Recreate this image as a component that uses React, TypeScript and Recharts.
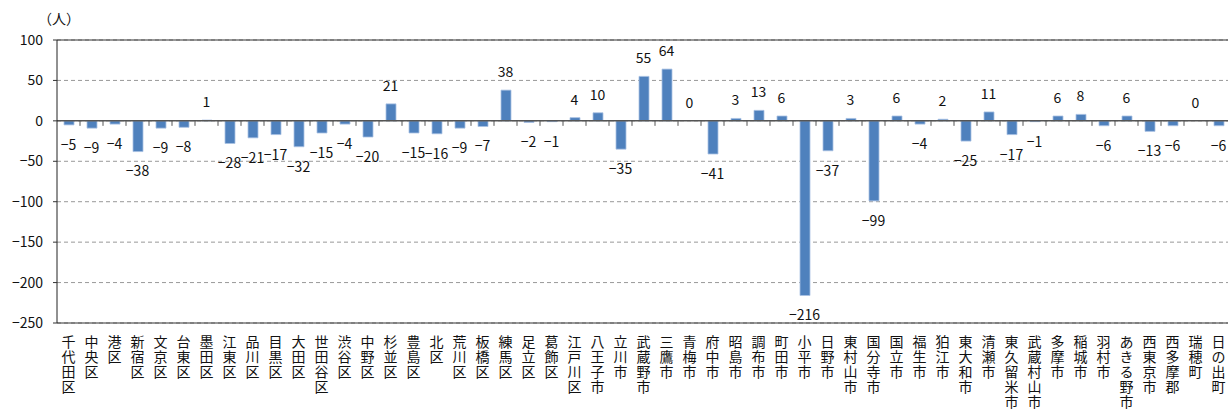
import React from 'react';
import { ComposedChart, Bar, Line, XAxis, YAxis, CartesianGrid, ReferenceLine, LabelList } from 'recharts';

const wards = [
    '千代田区', '中央区', '港区', '新宿区', '文京区', '台東区', '墨田区', '江東区', '品川区', '目黒区',
    '大田区', '世田谷区', '渋谷区', '中野区', '杉並区', '豊島区', '北区', '荒川区', '板橋区', '練馬区',
    '足立区', '葛飾区', '江戸川区', '八王子市', '立川市', '武蔵野市', '三鷹市', '青梅市', '府中市', '昭島市',
    '調布市', '町田市', '小平市', '日野市', '東村山市', '国分寺市', '国立市', '福生市', '狛江市', '東大和市',
    '清瀬市', '東久留米市', '武蔵村山市', '多摩市', '稲城市', '羽村市', 'あきる野市', '西東京市', '西多摩郡', '瑞穂町',
    '日の出町',
];

const changes = [
    -5, -9, -4, -38, -9, -8, 1, -28, -21, -17,
    -32, -15, -4, -20, 21, -15, -16, -9, -7, 38,
    -2, -1, 4, 10, -35, 55, 64, 0, -41, 3,
    13, 6, -216, -37, 3, -99, 6, -4, 2, -25,
    11, -17, -1, 6, 8, -6, 6, -13, -6, 0,
    -6,
];

const yTicks = [100, 50, 0, -50, -100, -150, -200, -250];

const data = wards.map((name, i) => ({ name, value: changes[i] }));

const font = '"Noto Sans CJK JP", "Noto Sans", sans-serif';
const fmt = (v: number) => String(v).replace('-', '−');

// category names stacked one character per line
const VerticalTick = ({ x, y, payload }: any) => {
    const chars = Array.from(String(payload.value));
    return (
        <text x={x} y={y} textAnchor="middle" fontSize={14} fontFamily={font} fill="#111">
            {chars.map((c, i) => (
                <tspan key={i} x={x} dy={i === 0 ? 24 : 15}>{c}</tspan>
            ))}
        </text>
    );
};

// label sits above the bar end for gains, below it for losses (zero too)
const ValueLabel = (props: any) => {
    const { x, y } = props;
    const value = Number(props.value);
    const ty = value >= 0 ? y - 18 : y + 20;
    return (
        <text x={x} y={ty} dy="0.35em" textAnchor="middle" fontSize={14} fontFamily={font} fill="#111">
            {fmt(value)}
        </text>
    );
};

// zero line with small tick marks between categories
const ZeroLine = (props: any) => {
    const { x1, y1, x2, y2 } = props;
    const step = (x2 - x1) / wards.length;
    return (
        <g>
            <line x1={x1} y1={y1} x2={x2} y2={y2} stroke="#555" strokeWidth={1.5} />
            {wards.slice(1).map((_, i) => (
                <line key={i} x1={x1 + step * (i + 1)} x2={x1 + step * (i + 1)} y1={y1} y2={y1 + 5} stroke="#555" />
            ))}
        </g>
    );
};

const App: React.FC = () => (
    <div style={{ position: 'absolute', left: 0, top: 0, width: 1228, height: 414, overflow: 'hidden', background: '#fff' }}>
        <div style={{ position: 'absolute', left: 38, top: 8, fontSize: 14, fontFamily: font, color: '#111' }}>（人）</div>
        <ComposedChart width={1230} height={414} data={data} margin={{ top: 40, right: 0, left: 0, bottom: 0 }} barSize={10}>
            <CartesianGrid vertical={false} stroke="#999" strokeDasharray="4 3" />
            <XAxis
                dataKey="name"
                interval={0}
                height={91}
                tickLine={false}
                tickSize={0}
                tickMargin={0}
                axisLine={{ stroke: '#333' }}
                tick={<VerticalTick />}
            />
            <YAxis
                domain={[-250, 100]}
                ticks={yTicks}
                width={57}
                interval={0}
                tickSize={4}
                tickMargin={10}
                tickLine={{ stroke: '#333' }}
                axisLine={{ stroke: '#222' }}
                tickFormatter={fmt}
                tick={{ fontSize: 14, fontFamily: font, fill: '#111' }}
            />
            <ReferenceLine y={100} stroke="#333" />
            <ReferenceLine y={0} shape={<ZeroLine />} />
            <Bar dataKey="value" fill="#4F81BD" stroke="#A9C2E3" strokeWidth={0.8} isAnimationActive={false} />
            <Line dataKey="value" stroke="none" dot={false} activeDot={false} legendType="none" isAnimationActive={false}>
                <LabelList dataKey="value" content={<ValueLabel />} />
            </Line>
        </ComposedChart>
    </div>
);

export default App;
